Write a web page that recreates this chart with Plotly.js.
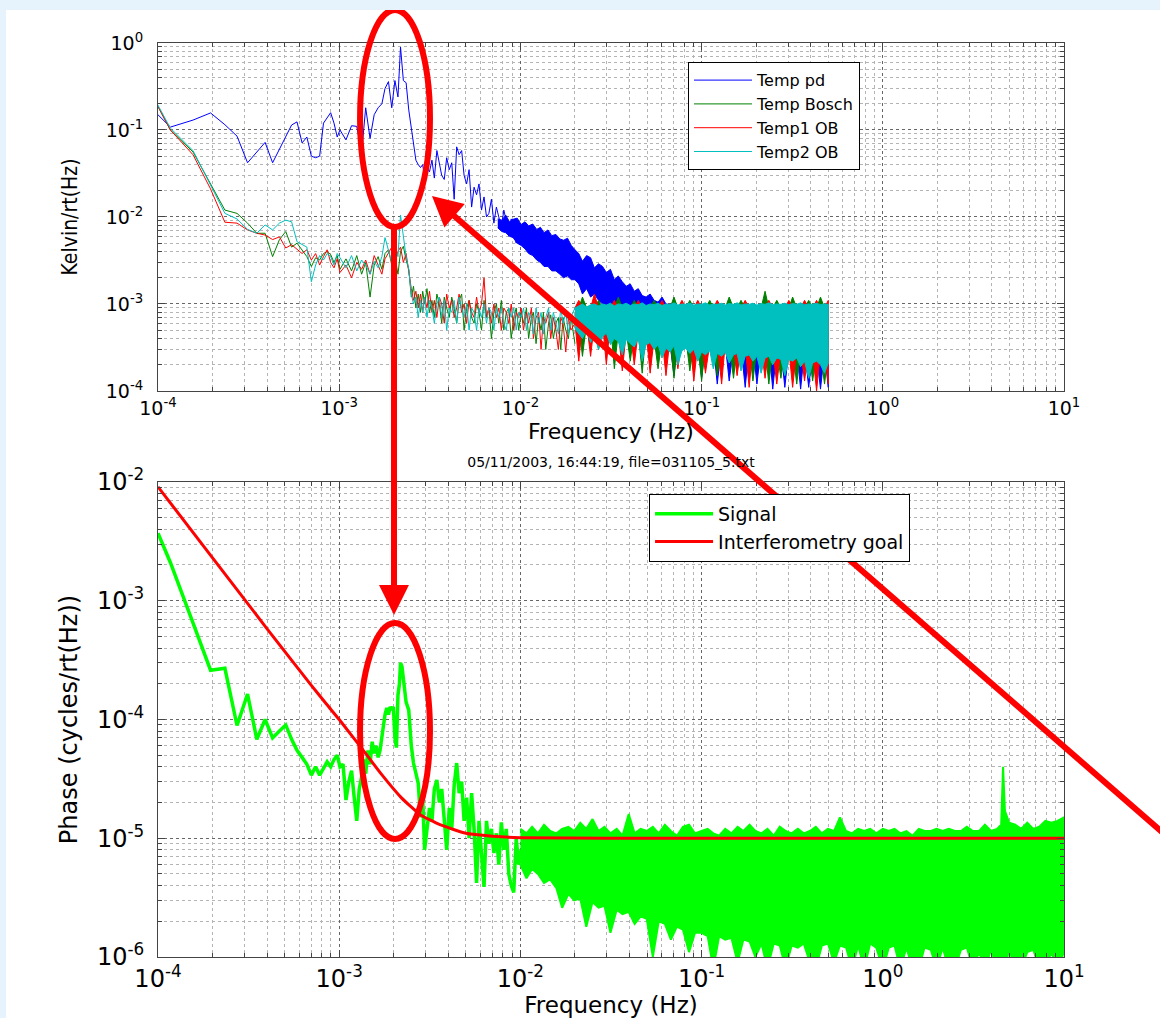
<!DOCTYPE html>
<html><head><meta charset="utf-8">
<script src="https://cdn.plot.ly/plotly-3.0.1.min.js"></script>
<style>
html,body{margin:0;padding:0;background:#e6f2fc;width:1160px;height:1018px;overflow:hidden;}
#chart{position:absolute;left:6px;top:10px;width:1154px;height:1008px;background:#fff;}
</style></head><body><div id="chart"></div>
<script>
// ---------- Top plot: temperature spectra (Kelvin/rt(Hz)) ----------
const fTop = [
7.8e-5,1.17e-4,1.56e-4,1.95e-4,2.34e-4,2.73e-4,3.12e-4,3.51e-4,3.9e-4,4.29e-4,
4.68e-4,5.07e-4,5.46e-4,5.85e-4,6.24e-4,6.63e-4,7.02e-4,7.41e-4,7.8e-4,8.19e-4,
8.58e-4,8.97e-4,9.36e-4,9.75e-4,1.01e-3,1.09e-3,1.17e-3,1.25e-3,1.33e-3,1.40e-3,
1.48e-3,1.56e-3,1.64e-3,1.72e-3,1.79e-3,1.87e-3,1.95e-3,2.03e-3,2.11e-3,2.18e-3,
2.26e-3,2.34e-3,2.42e-3,2.50e-3,2.57e-3,2.65e-3,2.73e-3,2.81e-3,2.89e-3,2.96e-3,
3.05e-3,3.15e-3,3.25e-3,3.35e-3,3.46e-3,3.57e-3,3.68e-3,3.8e-3,3.92e-3,4.05e-3,
4.18e-3,4.31e-3,4.45e-3,4.59e-3,4.74e-3,4.89e-3,5.05e-3,5.21e-3,5.38e-3,5.55e-3,
5.73e-3,5.91e-3,6.1e-3,6.3e-3,6.5e-3,6.7e-3,6.92e-3,7.14e-3,7.37e-3,7.6e-3,
7.85e-3,8.1e-3,8.36e-3,8.63e-3,8.9e-3,9.19e-3,9.48e-3,9.79e-3,1.01e-2,1.04e-2,
1.08e-2,1.11e-2,1.15e-2,1.18e-2,1.22e-2,1.26e-2,1.3e-2,1.34e-2,1.38e-2,1.43e-2,
1.47e-2,1.52e-2,1.57e-2,1.62e-2,1.67e-2,1.72e-2,1.78e-2,1.84e-2,1.9e-2,2.0e-2];

const tempPd = [
0.25,0.108,0.13,0.157,0.115,0.085,0.042,0.056,0.072,0.042,
0.06,0.085,0.114,0.124,0.071,0.083,0.05,0.048,0.05,0.12,
0.14,0.158,0.12,0.083,0.1,0.077,0.112,0.11,0.055,0.18,
0.08,0.15,0.18,0.2,0.3,0.36,0.18,0.37,0.24,0.9,
0.37,0.35,0.17,0.108,0.07,0.045,0.04,0.037,0.04,0.028,
0.037,0.033,0.045,0.028,0.058,0.041,0.03,0.027,0.048,0.035,
0.042,0.016,0.064,0.052,0.058,0.03,0.024,0.035,0.013,0.022,
0.018,0.024,0.012,0.017,0.01,0.011,0.016,0.0085,0.013,0.01,
0.0075,0.012,0.009,0.006,0.0095,0.0068,0.005,0.0085,0.0062,0.0075,
0.0042,0.0068,0.0055,0.0038,0.0062,0.0048,0.0032,0.0058,0.0042,0.0028,
0.005,0.0036,0.0045,0.0026,0.0041,0.0033,0.0022,0.004,0.0029,0.0021];

const tempBosch = [
0.5,0.1,0.056,0.024,0.012,0.011,0.0085,0.0065,0.0065,0.0035,
0.0055,0.0068,0.0045,0.005,0.0042,0.0035,0.0027,0.0034,0.0032,0.0038,
0.004,0.0037,0.003,0.0036,0.0025,0.0033,0.0024,0.0036,0.0022,0.003,
0.0012,0.0028,0.0035,0.0025,0.0038,0.0042,0.0028,0.0035,0.0022,0.004,
0.0046,0.0032,0.0025,0.0012,0.0016,0.0009,0.0013,0.0008,0.0014,0.001,
0.0015,0.0008,0.0011,0.0007,0.0013,0.001,0.0006,0.0012,0.0009,0.0007,
0.0012,0.0009,0.0006,0.0011,0.0013,0.0005,0.0009,0.0011,0.0007,0.0006,
0.001,0.0008,0.0005,0.0011,0.0007,0.0009,0.0004,0.0008,0.001,0.0006,
0.0011,0.0005,0.0008,0.0009,0.0004,0.0007,0.0009,0.0005,0.0008,0.0006,
0.0009,0.0004,0.0007,0.0008,0.00035,0.0007,0.0005,0.0008,0.0003,0.0006,
0.00075,0.0004,0.0006,0.0007,0.0003,0.0007,0.0005,0.0004,0.00072,0.00035];

const temp1OB = [
0.5,0.1,0.052,0.021,0.0087,0.0085,0.0071,0.0065,0.0062,0.0055,
0.0059,0.0044,0.0048,0.0042,0.0038,0.0042,0.0032,0.0038,0.0028,0.0035,
0.0042,0.003,0.0026,0.0033,0.0023,0.0028,0.002,0.003,0.0025,0.0032,
0.0022,0.0036,0.0028,0.0022,0.0033,0.0038,0.0045,0.0032,0.004,0.0045,
0.003,0.0038,0.0022,0.0015,0.0011,0.0014,0.0009,0.0013,0.0008,0.0012,
0.0009,0.0014,0.0008,0.0011,0.0007,0.0012,0.001,0.0006,0.0013,0.0009,
0.0011,0.0007,0.0009,0.0013,0.0008,0.001,0.0006,0.0011,0.0008,0.0007,
0.0012,0.0008,0.001,0.002,0.0007,0.0009,0.0006,0.001,0.0007,0.0009,
0.0005,0.0009,0.0008,0.0006,0.001,0.0005,0.0008,0.0007,0.0009,0.0005,
0.0008,0.0006,0.0009,0.0004,0.0007,0.0008,0.0003,0.0007,0.0006,0.0008,
0.0004,0.0007,0.0005,0.0003,0.0007,0.0006,0.00028,0.0007,0.0005,0.0006];

const temp2OB = [
0.5,0.105,0.058,0.023,0.011,0.0095,0.0072,0.0065,0.0081,0.0071,
0.0085,0.0092,0.0088,0.0052,0.0048,0.0045,0.0018,0.0028,0.0036,0.0032,
0.0038,0.0035,0.0028,0.0038,0.0034,0.0026,0.0036,0.0024,0.0032,0.0028,
0.0022,0.0031,0.0026,0.0035,0.0058,0.0042,0.003,0.0048,0.0035,0.0105,
0.006,0.0035,0.0025,0.0013,0.001,0.0012,0.0007,0.0011,0.0008,0.0012,
0.0007,0.0011,0.0009,0.0006,0.001,0.0012,0.0007,0.0011,0.0005,0.0009,
0.0008,0.0011,0.0006,0.0012,0.0009,0.0007,0.001,0.0005,0.0009,0.0008,
0.0005,0.0009,0.0007,0.001,0.0006,0.0009,0.0008,0.0005,0.0009,0.0007,
0.0009,0.0006,0.0005,0.0009,0.0007,0.0009,0.0005,0.0008,0.0007,0.0009,
0.0005,0.0008,0.0007,0.00045,0.0009,0.0006,0.0008,0.00045,0.0007,0.0009,
0.0005,0.0008,0.0006,0.00045,0.0009,0.0006,0.0008,0.00045,0.0007,0.0009];

// dense high-frequency part: upper / lower envelope of each noisy trace
const fTopBand = [
0.02,0.021,0.022,0.0232,0.0244,0.0256,0.027,0.0284,0.0298,0.0314,
0.033,0.0347,0.0365,0.0384,0.0404,0.0425,0.0447,0.047,0.0494,0.052,
0.0547,0.0575,0.0605,0.0636,0.0669,0.0704,0.074,0.0779,0.0819,0.0861,
0.0906,0.0953,0.1,0.105,0.111,0.116,0.122,0.129,0.135,0.142,
0.15,0.157,0.165,0.174,0.183,0.192,0.202,0.213,0.224,0.235,
0.247,0.26,0.274,0.288,0.303,0.318,0.335,0.352,0.37,0.39,
0.41,0.431,0.453,0.477,0.5];

// Temp pd is already a dense band from ~0.0075 Hz
const fPdBandLow = [
0.0075,0.0079,0.0083,0.0087,0.0091,0.0096,0.0101,0.0106,0.0111,0.0117,
0.0123,0.0129,0.0135,0.0142,0.0149,0.0157,0.0165,0.0173,0.0182,0.0191];
const tempPdHiLow = [
0.0095,0.0092,0.0105,0.0088,0.0094,0.0097,0.0082,0.0088,0.0079,0.0083,
0.0072,0.0076,0.0066,0.0071,0.0061,0.0063,0.0056,0.0054,0.0057,0.0047];
const tempPdLoLow = [
0.0075,0.0068,0.0066,0.006,0.0058,0.005,0.0047,0.0043,0.0038,0.0036,
0.0032,0.003,0.0027,0.0027,0.0024,0.0024,0.0022,0.002,0.0021,0.0019];

const tempPdHi = [
0.0042,0.0038,0.0031,0.0036,0.0034,0.0026,0.0029,0.0027,0.0023,0.0025,
0.0019,0.0021,0.0018,0.0016,0.0017,0.0014,0.0015,0.00125,0.0012,0.0013,
0.0011,0.00105,0.0012,0.001,0.00098,0.00105,0.0009,0.00095,0.00088,0.0009,
0.00085,0.0008,0.00082,0.00078,0.0008,0.00075,0.0008,0.00072,0.00078,0.0007,
0.00075,0.0007,0.00078,0.0007,0.00085,0.0007,0.00075,0.0007,0.00078,0.0007,
0.00072,0.0007,0.00075,0.00068,0.0008,0.0007,0.00072,0.00068,0.0007,0.00065,
0.0007,0.00068,0.00072,0.00065,0.0007];
const tempPdLo = [
0.0019,0.0017,0.0013,0.0015,0.0012,0.0013,0.0011,0.001,0.00085,0.0009,
0.0008,0.00072,0.00075,0.0006,0.00068,0.00055,0.00058,0.00028,0.0005,0.00048,
0.00045,0.00025,0.0004,0.0004,0.00035,0.00015,0.0004,0.0004,0.00035,0.00035,
0.00035,0.00035,0.00014,0.00035,0.00035,0.00035,0.00012,0.00035,0.00035,0.00013,
0.00032,0.00032,0.00032,0.00011,0.00032,0.00032,0.00012,0.00032,0.00032,0.00032,
0.000105,0.0003,0.0003,0.00011,0.0003,0.0003,0.0003,0.000105,0.0003,0.00011,
0.00028,0.00028,0.000105,0.00028,0.00011];

const tempBoschHi = [
0.0009,0.0009,0.0012,0.0009,0.0009,0.0009,0.0011,0.0009,0.0009,0.0009,
0.0009,0.0012,0.0009,0.0009,0.0009,0.0011,0.0009,0.0009,0.0009,0.0009,
0.0011,0.0009,0.0009,0.0009,0.0009,0.0012,0.0009,0.0009,0.0009,0.0011,
0.0009,0.0009,0.0009,0.0009,0.0011,0.0009,0.0009,0.0009,0.0009,0.0012,
0.0009,0.0009,0.0011,0.0009,0.0009,0.0009,0.0009,0.0009,0.0014,0.0009,
0.0009,0.0011,0.0009,0.0009,0.0009,0.0012,0.0009,0.0009,0.0009,0.0011,
0.0009,0.0009,0.0012,0.0009,0.0009];
const tempBoschLo = [
0.0006,0.0006,0.00025,0.0006,0.0006,0.0006,0.0003,0.0006,0.0006,0.0006,
0.00018,0.00048,0.00048,0.00048,0.00022,0.00048,0.00048,0.00016,0.00048,0.00048,
0.0004,0.00018,0.0004,0.0004,0.0004,0.00014,0.0004,0.0004,0.0004,0.00017,
0.00035,0.00035,0.00013,0.00035,0.00035,0.00035,0.00015,0.00035,0.00035,0.00035,
0.00014,0.00032,0.00032,0.00032,0.00032,0.00013,0.00032,0.00032,0.00032,0.00012,
0.0003,0.0003,0.00014,0.0003,0.0003,0.0003,0.00012,0.0003,0.0003,0.0003,
0.00013,0.00028,0.00028,0.00012,0.00028];

const temp1OBHi = [
0.0009,0.0011,0.0009,0.0009,0.0009,0.0013,0.0009,0.0009,0.0009,0.0009,
0.0011,0.0009,0.0009,0.0009,0.0009,0.0009,0.0011,0.0009,0.0009,0.0009,
0.0009,0.0009,0.0011,0.0009,0.0009,0.0009,0.0009,0.0011,0.0009,0.0009,
0.0009,0.0011,0.0009,0.0009,0.0009,0.0009,0.0011,0.0009,0.0009,0.0009,
0.0009,0.0009,0.0009,0.0011,0.0009,0.0009,0.0009,0.0009,0.0009,0.0011,
0.0009,0.0009,0.0009,0.0009,0.0011,0.0009,0.0009,0.0009,0.0011,0.0009,
0.0009,0.0011,0.0009,0.0009,0.0011];
const temp1OBLo = [
0.0006,0.00022,0.0006,0.0006,0.00025,0.0006,0.0006,0.0006,0.0002,0.0006,
0.00048,0.00048,0.00017,0.00048,0.00048,0.0002,0.00048,0.00048,0.00048,0.00016,
0.0004,0.0004,0.0004,0.00015,0.0004,0.0004,0.00018,0.0004,0.0004,0.0004,
0.00013,0.00035,0.00035,0.00016,0.00035,0.00035,0.00035,0.00012,0.00035,0.00035,
0.00032,0.00015,0.00032,0.00032,0.00011,0.00032,0.00032,0.00032,0.00014,0.00032,
0.0003,0.00012,0.0003,0.0003,0.0003,0.00011,0.0003,0.0003,0.00013,0.0003,
0.00028,0.0001,0.00028,0.00028,0.00012];

const temp2OBHi = [
0.0009,0.00095,0.001,0.00092,0.00098,0.001,0.00095,0.001,0.00097,0.00102,
0.00095,0.001,0.00098,0.00102,0.00096,0.001,0.00098,0.00103,0.00096,0.001,
0.00098,0.00102,0.00096,0.001,0.00098,0.00103,0.00097,0.001,0.00099,0.00102,
0.00097,0.001,0.00099,0.00103,0.00097,0.001,0.00099,0.00102,0.00097,0.00101,
0.00099,0.00103,0.00097,0.001,0.00099,0.00102,0.00097,0.00101,0.00099,0.00103,
0.00098,0.001,0.00099,0.00102,0.00098,0.00101,0.00099,0.00103,0.00098,0.001,
0.00099,0.00102,0.00098,0.001,0.00099];
const temp2OBLo = [
0.00052,0.00045,0.0004,0.0005,0.00036,0.00044,0.0003,0.00042,0.00046,0.00034,
0.0004,0.00037,0.00026,0.00039,0.00035,0.00032,0.0004,0.00022,0.00034,0.00036,
0.0003,0.00034,0.00024,0.00031,0.00028,0.00033,0.0002,0.00029,0.00031,0.00027,
0.0003,0.00022,0.00028,0.00026,0.00029,0.00018,0.00027,0.00025,0.00028,0.00021,
0.00026,0.00027,0.00017,0.00025,0.00026,0.00022,0.00025,0.00016,0.00024,0.00025,
0.0002,0.00024,0.00023,0.00015,0.00023,0.00022,0.00024,0.00019,0.00022,0.00014,
0.00021,0.00022,0.0002,0.00016,0.00021];

// ---------- Bottom plot: phase spectrum (cycles/rt(Hz)) ----------
const fBot = [
1.0e-4,1.17e-4,1.56e-4,1.95e-4,2.34e-4,2.73e-4,3.12e-4,3.51e-4,3.9e-4,4.29e-4,
4.68e-4,5.07e-4,5.46e-4,5.85e-4,6.24e-4,6.63e-4,7.02e-4,7.41e-4,7.8e-4,8.19e-4,
8.58e-4,8.97e-4,9.36e-4,9.75e-4,1.01e-3,1.05e-3,1.09e-3,1.13e-3,1.17e-3,1.21e-3,
1.25e-3,1.29e-3,1.33e-3,1.36e-3,1.40e-3,1.44e-3,1.48e-3,1.52e-3,1.56e-3,1.60e-3,
1.64e-3,1.68e-3,1.72e-3,1.76e-3,1.79e-3,1.83e-3,1.87e-3,1.91e-3,1.95e-3,1.99e-3,
2.03e-3,2.07e-3,2.11e-3,2.15e-3,2.18e-3,2.22e-3,2.26e-3,2.30e-3,2.34e-3,2.42e-3,
2.50e-3,2.57e-3,2.65e-3,2.73e-3,2.81e-3,2.89e-3,2.96e-3,3.05e-3,3.15e-3,3.25e-3,
3.35e-3,3.46e-3,3.57e-3,3.68e-3,3.8e-3,3.92e-3,4.05e-3,4.18e-3,4.31e-3,4.45e-3,
4.59e-3,4.74e-3,4.89e-3,5.05e-3,5.21e-3,5.38e-3,5.55e-3,5.73e-3,5.91e-3,6.1e-3,
6.3e-3,6.5e-3,6.7e-3,6.92e-3,7.14e-3,7.37e-3,7.6e-3,7.85e-3,8.1e-3,8.36e-3,
8.63e-3,8.9e-3,9.19e-3,9.48e-3,9.79e-3,1.01e-2];

const signal = [
3.7e-3,2.1e-3,6.5e-4,2.6e-4,2.7e-4,8.9e-5,1.64e-4,6.8e-5,1.0e-4,7.0e-5,
8.0e-5,9.0e-5,6.8e-5,5.5e-5,4.8e-5,4.2e-5,3.4e-5,4.0e-5,3.4e-5,3.9e-5,
4.4e-5,4.0e-5,4.6e-5,5.0e-5,4.0e-5,4.2e-5,2.1e-5,3.0e-5,3.7e-5,2.2e-5,
1.4e-5,2.6e-5,3.3e-5,4.6e-5,3.5e-5,5.5e-5,4.2e-5,6.5e-5,5.2e-5,6.0e-5,
4.8e-5,5.5e-5,7.5e-5,9.0e-5,1.1e-4,1.25e-4,1.1e-4,1.28e-4,1.2e-4,1.28e-4,
7.0e-5,5.8e-5,1.6e-4,2.0e-4,3.0e-4,2.8e-4,2.2e-4,1.8e-4,1.4e-4,1.2e-4,
6.0e-5,4.3e-5,3.5e-5,2.9e-5,1.5e-5,2.2e-5,8.0e-6,1.2e-5,1.8e-5,1.4e-5,
2.6e-5,3.1e-5,2.0e-5,2.6e-5,1.5e-5,8.0e-6,1.8e-5,1.2e-5,2.8e-5,4.3e-5,
2.4e-5,3.0e-5,1.4e-5,2.2e-5,1.0e-5,2.4e-5,1.2e-5,4.2e-6,1.4e-5,8.0e-6,
3.9e-6,1.4e-5,9.0e-6,1.2e-5,7.5e-6,1.1e-5,6.0e-6,1.36e-5,8.0e-6,1.2e-5,
5.0e-6,4.0e-6,3.5e-6,1.0e-5,6.0e-6,8.0e-6];

const fBotBand = [
0.01,0.0108,0.0116,0.0125,0.0135,0.0146,0.0158,0.017,0.0184,0.0198,
0.0214,0.0231,0.025,0.027,0.0291,0.0314,0.034,0.0366,0.0396,0.0427,
0.0461,0.0498,0.0538,0.058,0.0627,0.0677,0.0731,0.0789,0.0852,0.092,
0.1,0.108,0.116,0.125,0.135,0.146,0.158,0.17,0.184,0.198,
0.214,0.231,0.25,0.27,0.291,0.314,0.34,0.366,0.396,0.427,
0.461,0.498,0.538,0.58,0.627,0.677,0.731,0.789,0.852,0.92,
1,1.08,1.16,1.25,1.35,1.46,1.58,1.7,1.84,1.98,
2.14,2.31,2.5,2.7,2.91,3.14,3.4,3.66,3.96,4.27,
4.5,4.61,4.72,4.98,5.38,5.8,6.27,6.77,7.31,7.89,
8.52,9.2,10];
const signalHi = [
1.2e-5,1.1e-5,1.25e-5,1.1e-5,1.3e-5,1.15e-5,1.1e-5,1.2e-5,1.25e-5,1.15e-5,
1.35e-5,1.2e-5,1.45e-5,1.15e-5,1.25e-5,1.1e-5,1.2e-5,1.05e-5,1.6e-5,1.1e-5,
1.2e-5,1.15e-5,1.25e-5,1.1e-5,1.3e-5,1.15e-5,1.05e-5,1.25e-5,1.3e-5,1.1e-5,
1.15e-5,1.2e-5,1.1e-5,1.05e-5,1.2e-5,1.1e-5,1.25e-5,1.15e-5,1.3e-5,1.15e-5,
1.1e-5,1.2e-5,1.05e-5,1.25e-5,1.15e-5,1.1e-5,1.2e-5,1.1e-5,1.15e-5,1.25e-5,
1.1e-5,1.2e-5,1.15e-5,1.5e-5,1.15e-5,1.1e-5,1.2e-5,1.15e-5,1.2e-5,1.1e-5,
1.2e-5,1.15e-5,1.2e-5,1.1e-5,1.15e-5,1.05e-5,1.2e-5,1.15e-5,1.15e-5,1.2e-5,
1.15e-5,1.2e-5,1.15e-5,1.15e-5,1.25e-5,1.15e-5,1.15e-5,1.3e-5,1.15e-5,1.2e-5,
1.3e-5,4.0e-5,1.7e-5,1.35e-5,1.3e-5,1.2e-5,1.35e-5,1.2e-5,1.25e-5,1.4e-5,
1.35e-5,1.4e-5,1.5e-5];
const signalLo = [
6e-6,4.6e-6,5.5e-6,5e-6,4.2e-6,4.5e-6,3.8e-6,2.6e-6,3.4e-6,3.0e-6,
3.1e-6,1.8e-6,2.9e-6,2.6e-6,2.7e-6,1.6e-6,2.5e-6,2.3e-6,2.4e-6,1.9e-6,
2.2e-6,2.1e-6,1.0e-6,2.0e-6,1.9e-6,1.4e-6,1.8e-6,1.7e-6,1.1e-6,1.6e-6,
1.6e-6,1.5e-6,8e-7,1.5e-6,1.4e-6,1.45e-6,9e-7,1.4e-6,1.35e-6,1.0e-6,
1.3e-6,8e-7,1.3e-6,1.25e-6,8e-7,1.25e-6,1.2e-6,1.3e-6,9e-7,8e-7,
1.25e-6,1.3e-6,9e-7,1.25e-6,1.2e-6,8e-7,1.25e-6,8e-7,1.3e-6,1.2e-6,
8e-7,1.2e-6,1.25e-6,8e-7,1.2e-6,8e-7,8e-7,1.2e-6,1.15e-6,8e-7,
1.2e-6,8e-7,8e-7,1.15e-6,1.2e-6,8e-7,1.1e-6,8e-7,1.15e-6,8e-7,
8e-7,1.1e-6,8e-7,1.15e-6,8e-7,8e-7,1.1e-6,1.15e-6,8e-7,8e-7,
1.1e-6,8e-7,1.1e-6];

const fGoal = [1e-4,2e-4,4e-4,7e-4,8.5e-4,1e-3,1.15e-3,1.3e-3,1.7e-3,2.2e-3,2.8e-3,3.6e-3,5e-3,7e-3,1e-2,3e-2,10];
const interferometryGoal = [9.1e-3,2.3e-3,5.8e-4,1.95e-4,1.35e-4,1.0e-4,7.6e-5,6.0e-5,3.5e-5,2.2e-5,1.58e-5,1.3e-5,1.1e-5,1.04e-5,1.01e-5,1.0e-5,1.0e-5];

// ---------- tick labels ----------
const xTickVals = [1e-4,1e-3,1e-2,1e-1,1,10];
const xTickText = ['10<sup>-4</sup>','10<sup>-3</sup>','10<sup>-2</sup>','10<sup>-1</sup>','10<sup>0</sup>','10<sup>1</sup>'];
const yTopTickVals = [1e-4,1e-3,1e-2,1e-1,1];
const yTopTickText = ['10<sup>-4</sup>','10<sup>-3</sup>','10<sup>-2</sup>','10<sup>-1</sup>','10<sup>0</sup>'];
const yBotTickVals = [1e-6,1e-5,1e-4,1e-3,1e-2];
const yBotTickText = ['10<sup>-6</sup>','10<sup>-5</sup>','10<sup>-4</sup>','10<sup>-3</sup>','10<sup>-2</sup>'];

// ---------- build ----------
const FONT = 'DejaVu Sans, Liberation Sans, Arial, sans-serif';
const C = {blue:'#0000ff', green:'#008000', red:'#ff0000', cyan:'#00bfbf', sig:'#00ff00', goal:'#ff0000'};

function poly(f, hi, lo){ return {x: f.concat(f.slice().reverse()), y: hi.concat(lo.slice().reverse())}; }
function line(x, y, name, color, w, xa, ya, leg){
  return {type:'scatter', mode:'lines', x:x, y:y, name:name, line:{color:color, width:w},
          xaxis:xa, yaxis:ya, legend:leg, hoverinfo:'skip'};
}
function band(f, hi, lo, color, w, xa, ya){
  const p = poly(f, hi, lo);
  return {type:'scatter', mode:'lines', x:p.x, y:p.y, fill:'toself', fillcolor:color,
          line:{color:color, width:w}, xaxis:xa, yaxis:ya, showlegend:false, hoverinfo:'skip'};
}

const traces = [
  line(fTop, tempPd, 'Temp pd', C.blue, 1, 'x', 'y', 'legend'),
  line(fTop, tempBosch, 'Temp Bosch', C.green, 1, 'x', 'y', 'legend'),
  line(fTop, temp1OB, 'Temp1 OB', C.red, 1, 'x', 'y', 'legend'),
  line(fTop, temp2OB, 'Temp2 OB', C.cyan, 1, 'x', 'y', 'legend'),
  band(fPdBandLow.concat(fTopBand), tempPdHiLow.concat(tempPdHi), tempPdLoLow.concat(tempPdLo), C.blue, 1, 'x', 'y'),
  band(fTopBand, tempBoschHi, tempBoschLo, C.green, 1, 'x', 'y'),
  band(fTopBand, temp1OBHi, temp1OBLo, C.red, 1, 'x', 'y'),
  band(fTopBand, temp2OBHi, temp2OBLo, C.cyan, 1, 'x', 'y'),
  line(fBot, signal, 'Signal', C.sig, 3.5, 'x2', 'y2', 'legend2'),
  band(fBotBand, signalHi, signalLo, C.sig, 2, 'x2', 'y2'),
  Object.assign(line(fGoal, interferometryGoal, 'Interferometry goal', C.goal, 3, 'x2', 'y2', 'legend2'),
                {line:{color:C.goal, width:3, shape:'spline', smoothing:0.5}})
];

function axis(o){
  return Object.assign({
    type:'log', showline:true, linecolor:'#444', linewidth:1, mirror:'ticks',
    ticks:'inside', ticklen:7, tickcolor:'#444', tickmode:'array',
    showgrid:true, gridcolor:'#666', griddash:'dot', gridwidth:1, zeroline:false,
    minor:{dtick:'D1', ticks:'inside', ticklen:4, tickcolor:'#444', showgrid:true, gridcolor:'#b4b4b4', griddash:'dot', gridwidth:1},
    automargin:false
  }, o);
}

const layout = {
  width:1154, height:1008,
  margin:{l:152, r:96, t:33, b:61},
  paper_bgcolor:'#ffffff', plot_bgcolor:'#ffffff',
  hovermode:false,
  font:{family:FONT, color:'#000'},
  title:{text:'05/11/2003, 16:44:19, file=031105_5.txt', font:{family:FONT, size:14, color:'#000'},
         x:0.5, xref:'paper', xanchor:'center', y:0.5416, yref:'paper', yanchor:'middle'},
  xaxis: axis({domain:[0,1], anchor:'y', range:[-4,1], tickvals:xTickVals, ticktext:xTickText,
               tickfont:{family:FONT, size:19, color:'#000'},
               title:{text:'Frequency (Hz)', font:{family:FONT, size:22, color:'#000'}, standoff:0}}),
  yaxis: axis({domain:[0.6193,1], anchor:'x', range:[-4,0], tickvals:yTopTickVals, ticktext:yTopTickText,
               tickfont:{family:FONT, size:19, color:'#000'}, ticklabelstandoff:10,
               title:{text:'Kelvin/rt(Hz)', font:{family:'Liberation Sans Narrow, DejaVu Sans Condensed, Liberation Sans, sans-serif', size:21, color:'#000'}, standoff:22}}),
  xaxis2: axis({domain:[0,1], anchor:'y2', range:[-4,1], tickvals:xTickVals, ticktext:xTickText,
               tickfont:{family:FONT, size:24, color:'#000'},
               title:{text:'Frequency (Hz)', font:{family:FONT, size:23, color:'#000'}, standoff:2}}),
  yaxis2: axis({domain:[0,0.5197], anchor:'x2', range:[-6,-2], tickvals:yBotTickVals, ticktext:yBotTickText,
               tickfont:{family:FONT, size:24, color:'#000'}, ticklabelstandoff:8,
               title:{text:'Phase (cycles/rt(Hz))', font:{family:FONT, size:24, color:'#000'}, standoff:12}}),
  legend:{x:0.585, y:0.979, xanchor:'left', yanchor:'top', bgcolor:'#ffffff', bordercolor:'#000', borderwidth:1,
          font:{family:FONT, size:16, color:'#000'}, itemwidth:58, tracegroupgap:0},
  legend2:{x:0.542, y:0.5066, xanchor:'left', yanchor:'top', bgcolor:'#ffffff', bordercolor:'#000', borderwidth:1,
          font:{family:FONT, size:19, color:'#000'}, itemwidth:58, tracegroupgap:0},
  shapes:[
    {type:'circle', xref:'paper', yref:'paper', x0:0.2230, x1:0.3002, y0:0.7987, y1:1.0361, line:{color:'#ff0000', width:6}},
    {type:'circle', xref:'paper', yref:'paper', x0:0.2230, x1:0.3002, y0:0.1291, y1:0.3654, line:{color:'#ff0000', width:6}},
    {type:'line', xref:'paper', yref:'paper', x0:0.2605, x1:0.2605, y0:0.7976, y1:0.4037, line:{color:'#ff0000', width:6}},
    {type:'path', xref:'paper', yref:'paper', path:'M 0.2439 0.4070 L 0.2770 0.4070 L 0.2605 0.3742 Z', fillcolor:'#ff0000', line:{width:0}},
    {type:'line', xref:'paper', yref:'paper', x0:0.3245, y0:0.8129, x1:1.1501, y1:0.1007, line:{color:'#ff0000', width:6}},
    {type:'path', xref:'paper', yref:'paper', path:'M 0.3024 0.8326 L 0.3161 0.7982 L 0.3386 0.8239 Z', fillcolor:'#ff0000', line:{width:0}}
  ]
};

Plotly.newPlot('chart', traces, layout, {displayModeBar:false, staticPlot:true});
</script>
</body></html>
